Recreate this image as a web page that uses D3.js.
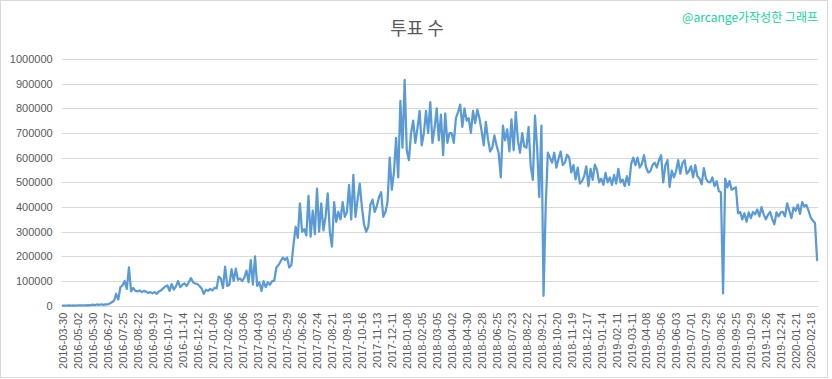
<!DOCTYPE html>
<html>
<head>
<meta charset="utf-8">
<script src="https://cdn.jsdelivr.net/npm/d3@7"></script>
<style>
  body { margin: 0; background: #fff; }
  svg { display: block; }
</style>
</head>
<body>
<svg id="chart" width="832" height="379"></svg>
<script>
// ---- Data (sampled every 4 days; one tick label every 7 samples) ----
const tickLabels = [
  "2016-03-30","2016-05-02","2016-05-30","2016-06-27","2016-07-25","2016-08-22","2016-09-19",
  "2016-10-17","2016-11-14","2016-12-12","2017-01-09","2017-02-06","2017-03-06","2017-04-03",
  "2017-05-01","2017-05-29","2017-06-26","2017-07-24","2017-08-21","2017-09-18","2017-10-16",
  "2017-11-13","2017-12-11","2018-01-08","2018-02-05","2018-03-05","2018-04-02","2018-04-30",
  "2018-05-28","2018-06-25","2018-07-23","2018-08-22","2018-09-21","2018-10-20","2018-11-19",
  "2018-12-17","2019-01-14","2019-02-11","2019-03-11","2019-04-08","2019-05-06","2019-06-03",
  "2019-07-01","2019-07-29","2019-08-26","2019-09-25","2019-10-29","2019-11-26","2019-12-24",
  "2020-01-21","2020-02-18"
];
const samplesPerLabel = 7;

const votes = [
  500, 800, 600, 900, 700, 1000, 800,
  1200, 1500, 1300, 1800, 1600, 2000, 1800,
  4000, 2500, 5000, 3000, 6000, 3500, 5500,
  5000, 9000, 14000, 20000, 48000, 25000, 75000,
  82000, 100000, 68000, 155000, 58000, 72000, 60000,
  58000, 62000, 55000, 60000, 57000, 52000, 55000,
  50000, 55000, 48000, 58000, 62000, 70000, 78000,
  82000, 60000, 88000, 65000, 78000, 100000, 75000,
  85000, 90000, 80000, 95000, 112000, 95000, 90000,
  88000, 80000, 70000, 48000, 65000, 60000, 68000,
  62000, 72000, 70000, 118000, 110000, 72000, 158000,
  80000, 85000, 148000, 100000, 150000, 105000, 110000,
  100000, 115000, 142000, 95000, 185000, 85000, 200000,
  80000, 95000, 60000, 100000, 75000, 95000, 85000,
  100000, 102000, 155000, 165000, 180000, 195000, 185000,
  195000, 155000, 165000, 248000, 320000, 275000, 415000,
  300000, 310000, 285000, 445000, 280000, 385000, 290000,
  475000, 300000, 415000, 305000, 360000, 455000, 300000,
  240000, 420000, 340000, 380000, 350000, 420000, 360000,
  380000, 490000, 350000, 530000, 360000, 430000, 495000,
  400000, 330000, 300000, 320000, 410000, 430000, 380000,
  405000, 440000, 460000, 360000, 380000, 420000, 600000,
  470000, 540000, 680000, 520000, 830000, 640000, 915000,
  630000, 590000, 700000, 750000, 660000, 720000, 790000,
  650000, 700000, 790000, 700000, 825000, 660000, 720000,
  800000, 670000, 775000, 610000, 780000, 660000, 700000,
  700000, 660000, 760000, 785000, 815000, 725000, 800000,
  750000, 760000, 700000, 790000, 740000, 795000, 760000,
  710000, 650000, 745000, 675000, 625000, 640000, 690000,
  650000, 620000, 520000, 730000, 670000, 715000, 625000,
  755000, 630000, 785000, 670000, 620000, 700000, 645000,
  640000, 725000, 565000, 510000, 770000, 640000, 440000,
  730000, 40000, 400000, 620000, 600000, 580000, 620000,
  560000, 595000, 625000, 570000, 580000, 612000, 600000,
  540000, 570000, 512000, 560000, 495000, 505000, 525000,
  565000, 485000, 555000, 510000, 572000, 550000, 500000,
  515000, 490000, 538000, 500000, 520000, 490000, 530000,
  495000, 555000, 500000, 512000, 485000, 525000, 490000,
  575000, 600000, 570000, 600000, 560000, 575000, 610000,
  560000, 540000, 545000, 570000, 580000, 560000, 590000,
  610000, 500000, 570000, 590000, 482000, 548000, 520000,
  545000, 590000, 535000, 578000, 590000, 535000, 545000,
  565000, 520000, 570000, 525000, 515000, 492000, 558000,
  515000, 502000, 500000, 520000, 485000, 505000, 465000,
  460000, 50000, 515000, 480000, 505000, 470000, 475000,
  480000, 375000, 380000, 350000, 375000, 340000, 378000,
  355000, 380000, 370000, 390000, 362000, 400000, 370000,
  350000, 368000, 380000, 352000, 330000, 378000, 362000,
  378000, 380000, 362000, 415000, 385000, 355000, 398000,
  385000, 410000, 372000, 420000, 402000, 408000, 385000,
  358000, 345000, 335000, 185000
];
const yTicks = [0,100000,200000,300000,400000,500000,600000,700000,800000,900000,1000000];
const titleText = "투표 수";
const creditText = "@arcange가작성한 그래프";

// ---- Layout ----
const svg = d3.select("#chart");
const gridLeft = 61.7, gridRight = 817.7;
const yTop = 59, yBottom = 305.7;

svg.append("rect")
  .attr("x", 0.5).attr("y", 0.5).attr("width", 827).attr("height", 377)
  .attr("fill", "#fff").attr("stroke", "#D9D9D9").attr("stroke-width", 1);

const x = d3.scaleLinear().domain([0, votes.length - 1]).range([62.7, 817.1]);
const y = d3.scaleLinear().domain([0, 1000000]).range([yBottom, yTop]);

// gridlines + y labels
const yAxis = d3.axisLeft(y).tickValues(yTicks).tickSize(-(gridRight - gridLeft)).tickPadding(9)
  .tickFormat(d3.format("d"));
const gy = svg.append("g").attr("transform", `translate(${gridLeft},0)`).call(yAxis);
gy.select(".domain").remove();
gy.selectAll(".tick line").attr("stroke", "#D9D9D9").attr("stroke-width", 1)
  .attr("shape-rendering", "crispEdges");
gy.selectAll(".tick text")
  .attr("fill", "#595959").attr("font-family", "'Liberation Sans', Arial, sans-serif")
  .attr("font-size", 11);

// x axis labels
const tickIdx = tickLabels.map((d, i) => i * samplesPerLabel);
const xAxis = d3.axisBottom(x).tickValues(tickIdx).tickSize(0)
  .tickFormat((d, i) => tickLabels[i]);
const gx = svg.append("g").attr("transform", `translate(0,${yBottom})`).call(xAxis);
gx.select(".domain").remove();
gx.selectAll(".tick text")
  .attr("fill", "#595959").attr("font-family", "'Liberation Sans', Arial, sans-serif")
  .attr("font-size", 11)
  .attr("text-anchor", "end")
  .attr("transform", "rotate(-90)")
  .attr("x", -7).attr("y", 0).attr("dy", "0.35em");

// line
const line = d3.line().x((d, i) => x(i)).y(d => y(d));
svg.append("path").datum(votes)
  .attr("d", line)
  .attr("fill", "none")
  .attr("stroke", "#5B9BD5")
  .attr("stroke-width", 2.25)
  .attr("stroke-linejoin", "round")
  .attr("stroke-linecap", "round");

// title
svg.append("text")
  .attr("x", 417).attr("y", 35)
  .attr("text-anchor", "middle")
  .attr("font-family", "'Noto Sans CJK KR', sans-serif")
  .attr("font-size", 18)
  .attr("fill", "#595959")
  .text(titleText);

svg.append("text")
  .attr("x", 818).attr("y", 22)
  .attr("text-anchor", "end")
  .attr("font-family", "'Noto Sans CJK KR', sans-serif")
  .attr("font-size", 12)
  .attr("fill", "#14D3A0")
  .text(creditText);
</script>
</body>
</html>
